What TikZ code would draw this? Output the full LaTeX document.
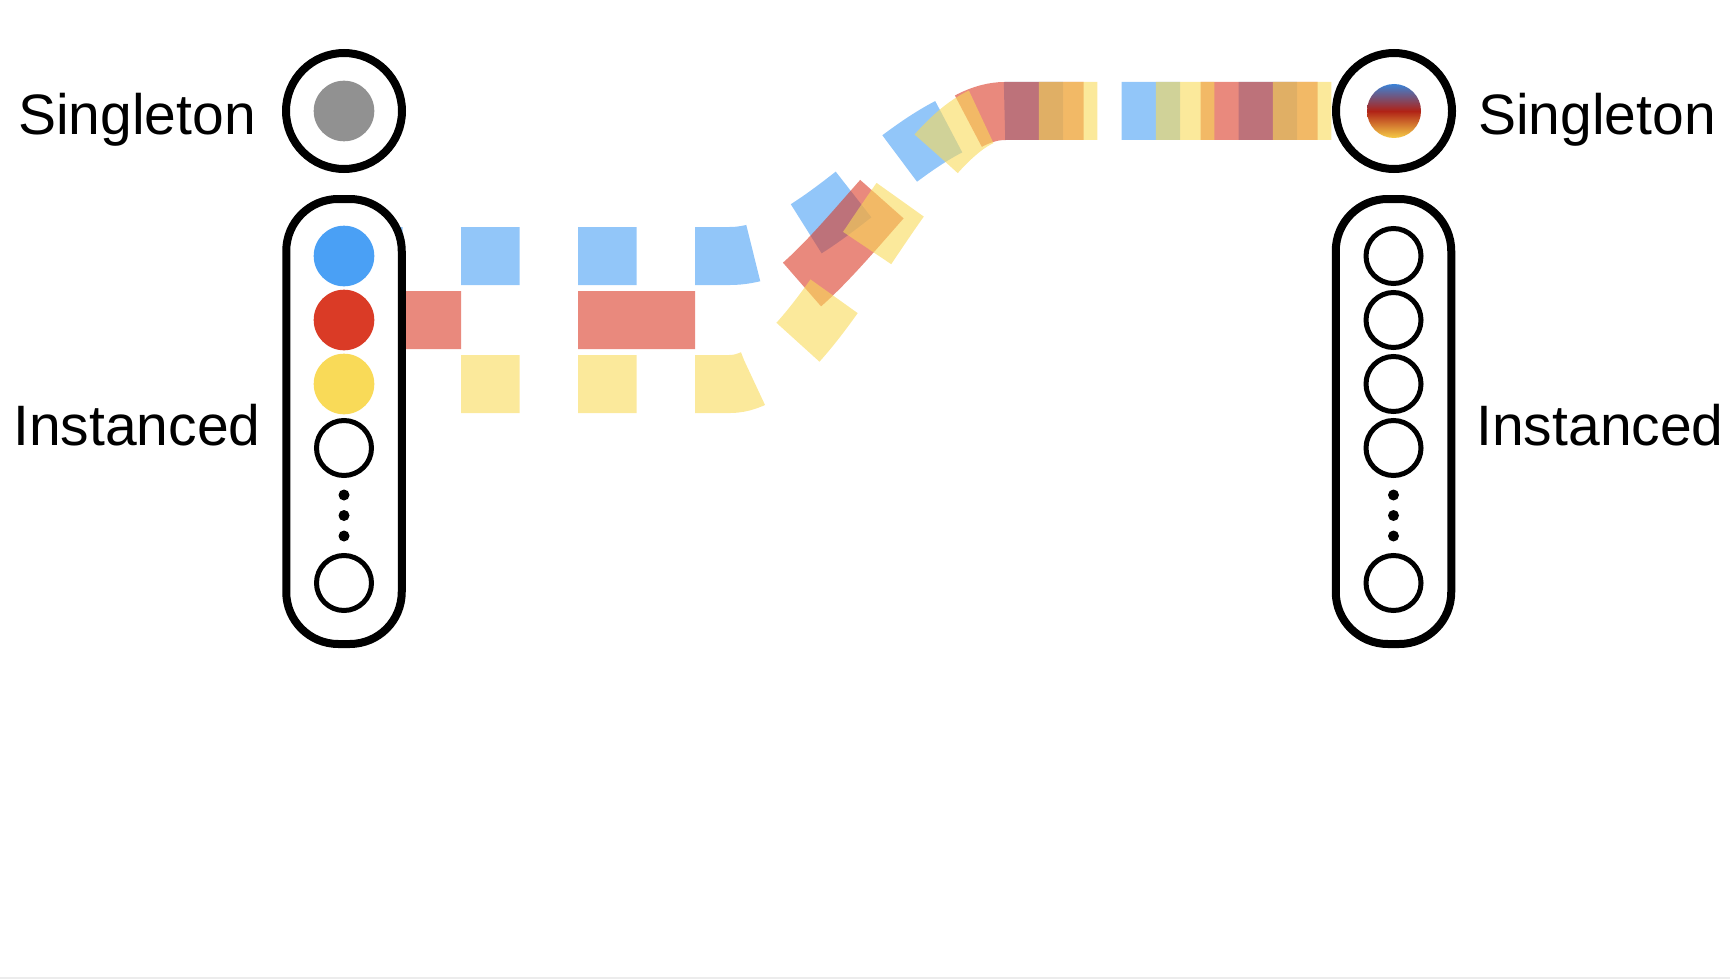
\documentclass[tikz,border=0pt]{standalone}
\usepackage{fontspec}
\setmainfont{Liberation Sans}
\usetikzlibrary{backgrounds}
\definecolor{cblue}{RGB}{74,160,245}
\definecolor{cred}{RGB}{218,59,38}
\definecolor{cyellow}{RGB}{249,218,88}
\definecolor{cgray}{RGB}{145,145,145}
\definecolor{gblue}{RGB}{59,130,214}
\definecolor{gred}{RGB}{176,34,22}
\definecolor{gyellow}{RGB}{246,204,72}
\definecolor{edgegray}{RGB}{236,236,236}
\begin{document}
\begin{tikzpicture}[x=1pt,y=-1pt,
  flow/.style={line width=58pt, draw opacity=0.6},
  shortdash/.style={dash pattern=on 58.5pt off 58.5pt},
  longdash/.style={dash pattern=on 117pt off 117pt},
  ring/.style={circle, draw=black, line width=8pt, fill=white, minimum size=116pt, inner sep=0pt},
  pill/.style={draw=black, line width=8pt, fill=white, rounded corners=52pt, minimum width=115.5pt, minimum height=445pt, inner sep=0pt},
  fillcirc/.style={circle, fill=#1, minimum size=60.6pt, inner sep=0pt},
  slot/.style={circle, draw=black, line width=5pt, minimum size=55pt, inner sep=0pt},
  pip/.style={circle, fill=black, minimum size=11pt, inner sep=0pt},
  lbl/.style={font=\fontsize{57}{60}\selectfont, anchor=base, inner sep=0pt}
]
\useasboundingbox (0,0) rectangle (1730,979);
\draw[edgegray, line width=1.5pt] (0,978.2) -- (1730,978.2);

% left side
\node[ring] (sL) at (344,111) {};
\node[fillcirc=cgray] (gL) at (344,111) {};
\node[pill] (boxL) at (344,421.5) {};
\node[fillcirc=cblue] (cB) at (344,256) {};
\node[fillcirc=cred] (cR) at (344,320) {};
\node[fillcirc=cyellow] (cY) at (344,384) {};
\node[slot] (eL1) at (344,448) {};
\node[pip] (pL1) at (344,495) {};
\node[pip] (pL2) at (344,515.5) {};
\node[pip] (pL3) at (344,536) {};
\node[slot] (eL2) at (344,583) {};

% right side
\node[ring] (sR) at (1394,111) {};
\node[circle, minimum size=54pt, inner sep=0pt, top color=gblue, bottom color=gyellow, middle color=gred] (gR) at (1394,111) {};
\node[pill] (boxR) at (1393.5,421.5) {};
\node[slot] (eR1) at (1393.5,256) {};
\node[slot] (eR2) at (1393.5,320) {};
\node[slot] (eR3) at (1393.5,384) {};
\node[slot] (eR4) at (1393.5,448) {};
\node[pip] (pR1) at (1393.5,495) {};
\node[pip] (pR2) at (1393.5,515.5) {};
\node[pip] (pR3) at (1393.5,536) {};
\node[slot] (eR5) at (1393.5,583) {};

% labels
\node[lbl] (tSL) at (137,135) {Singleton};
\node[lbl] (tIL) at (137,445) {Instanced};
\node[lbl] (tSR) at (1597,135) {Singleton};
\node[lbl] (tIR) at (1600,445) {Instanced};

% flows
\begin{scope}[on background layer]
\draw[flow, cblue, shortdash] (cB.center) -- (730,256) .. controls (821.7,256) and (913.3,111) .. (1005,111) -- (sR.center);
\draw[flow, cred, longdash] (cR.center) -- (730,320) .. controls (821.7,320) and (913.3,111) .. (1005,111) -- (sR.center);
\draw[flow, cyellow, shortdash] (cY.center) -- (730,384) .. controls (821.7,384) and (913.3,111) .. (1005,111) -- (sR.center);
\end{scope}
\end{tikzpicture}
\end{document}
